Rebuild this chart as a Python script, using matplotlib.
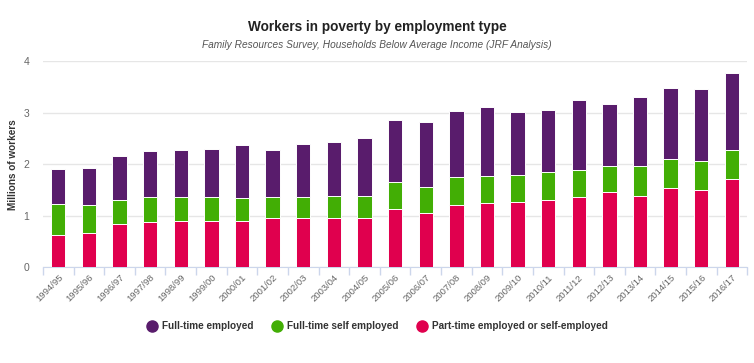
import matplotlib.pyplot as plt
from matplotlib.lines import Line2D
import numpy as np

plt.rcParams['font.family'] = ['Liberation Sans', 'DejaVu Sans']

years = ['1994/95', '1995/96', '1996/97', '1997/98', '1998/99', '1999/00',
         '2000/01', '2001/02', '2002/03', '2003/04', '2004/05', '2005/06',
         '2006/07', '2007/08', '2008/09', '2009/10', '2010/11', '2011/12',
         '2012/13', '2013/14', '2014/15', '2015/16', '2016/17']

# part-time employed or self-employed (bottom segment)
part_time = [0.63, 0.66, 0.84, 0.87, 0.89, 0.89, 0.89, 0.96, 0.95, 0.95,
             0.96, 1.13, 1.05, 1.20, 1.25, 1.26, 1.31, 1.36, 1.46, 1.38,
             1.54, 1.49, 1.71]
# full-time self employed (middle segment)
self_emp = [0.59, 0.54, 0.46, 0.49, 0.47, 0.47, 0.45, 0.41, 0.41, 0.44,
            0.43, 0.52, 0.51, 0.55, 0.52, 0.52, 0.53, 0.52, 0.51, 0.58,
            0.56, 0.57, 0.57]
# full-time employed (top segment)
full_time = [0.68, 0.72, 0.86, 0.90, 0.92, 0.94, 1.03, 0.91, 1.04, 1.03,
             1.11, 1.20, 1.25, 1.29, 1.34, 1.24, 1.21, 1.36, 1.19, 1.35,
             1.38, 1.40, 1.49]

c_ft = '#591c6c'
c_se = '#42ae05'
c_pt = '#e0004e'

fig = plt.figure(figsize=(7.54, 3.63), dpi=100)
ax = fig.add_axes([0.057, 0.2636, 0.934, 0.5684])

x = np.arange(len(years))
pt = np.array(part_time)
se = np.array(self_emp)
ft = np.array(full_time)
w = 0.47
ax.bar(x, pt, w, color=c_pt, edgecolor='white', linewidth=0.7, zorder=3)
ax.bar(x, se, w, bottom=pt, color=c_se, edgecolor='white', linewidth=0.7, zorder=3)
ax.bar(x, ft, w, bottom=pt + se, color=c_ft, edgecolor='white', linewidth=0.7, zorder=3)

ax.set_xlim(-0.5, len(years) - 0.5)
ax.set_ylim(0, 4)
ax.set_yticks([0, 1, 2, 3, 4])
ax.grid(axis='y', color='#e6e6e6', linewidth=1, zorder=0)
for s in ['top', 'right', 'left']:
    ax.spines[s].set_visible(False)
ax.spines['bottom'].set_color('#ccd6eb')
ax.tick_params(axis='y', length=0, labelsize=7.5, labelcolor='#666666', pad=10)

ax.set_xticks(x)
ax.set_xticklabels(years, rotation=45, ha='right', va='top',
                   rotation_mode='anchor', fontsize=6.8, color='#666666')
ax.tick_params(axis='x', length=0, pad=4)
ax.set_xticks(np.arange(-0.5, len(years)), minor=True)
ax.tick_params(axis='x', which='minor', length=6, color='#ccd6eb', width=1)

ax.set_ylabel('Millions of workers', fontsize=7.2, fontweight='bold', color='#333333')
ax.yaxis.set_label_coords(-0.035, 0.5)

fig.text(0.5, 1 - 27 / 363, 'Workers in poverty by employment type', ha='center', va='center',
         fontsize=9.8, fontweight='bold', color='#222222')
fig.text(0.5, 1 - 45 / 363, 'Family Resources Survey, Households Below Average Income (JRF Analysis)',
         ha='center', va='center', fontsize=7.3, style='italic', color='#555555')

handles = [Line2D([], [], marker='o', linestyle='none', markersize=8, color=c)
           for c in (c_ft, c_se, c_pt)]
labels = ['Full-time employed', 'Full-time self employed', 'Part-time employed or self-employed']
leg = fig.legend(handles, labels, loc='center', bbox_to_anchor=(0.5, 1 - 326 / 363), ncol=3,
                 frameon=False, handletextpad=0.4, columnspacing=1.75, handlelength=1.2,
                 prop={'size': 7.2, 'weight': 'bold'})
for t in leg.get_texts():
    t.set_color('#333333')

fig.savefig('out.png', dpi=100)
